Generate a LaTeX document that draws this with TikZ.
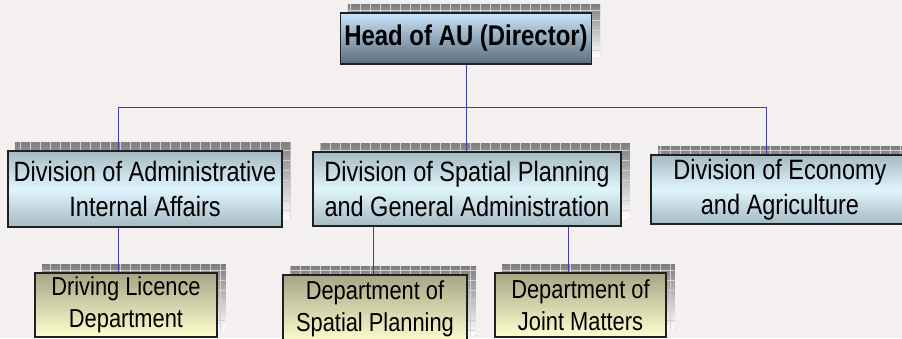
\documentclass[tikz,border=0pt]{standalone}
\usepackage{fontspec}
\setmainfont{Liberation Sans}[FakeStretch=0.84]
\usetikzlibrary{backgrounds}

\definecolor{paper}{RGB}{244,240,240}
\definecolor{wire}{RGB}{64,64,160}
\definecolor{rim}{RGB}{32,32,32}
\definecolor{shade}{RGB}{180,180,180}
\definecolor{shadeline}{RGB}{208,208,208}
\definecolor{headtop}{RGB}{200,228,252}
\definecolor{headbot}{RGB}{92,108,124}
\definecolor{divedge}{RGB}{166,186,196}
\definecolor{divmid}{RGB}{224,244,252}
\definecolor{deptop}{RGB}{166,166,134}
\definecolor{depbot}{RGB}{255,255,208}

\begin{document}
\begin{tikzpicture}[x=1pt,y=-1pt,
    box/.style={draw=rim,line width=1.1pt,inner sep=0pt,align=center},
    headbox/.style={box,top color=headtop,bottom color=headbot,
      font=\fontsize{28.5}{34}\selectfont\bfseries},
    divbox/.style={box,top color=divedge,bottom color=divedge,middle color=divmid,
      font=\fontsize{28}{35}\selectfont},
    depbox/.style={box,top color=deptop,bottom color=depbot,
      font=\fontsize{26}{32}\selectfont},
    link/.style={wire,line width=1pt}]
  \useasboundingbox (0,0) rectangle (902,338);

  \node[headbox,minimum width=251pt,minimum height=51pt] (head) at (466,38.5)
    {Head of AU (Director)};

  \node[divbox,minimum width=274pt,minimum height=76pt] (adm) at (145,189)
    {Division of Administrative\\Internal Affairs};
  \node[divbox,minimum width=308pt,minimum height=74pt] (spa) at (467,189)
    {Division of Spatial Planning\\and General Administration};
  \node[divbox,minimum width=258pt,minimum height=69pt] (eco) at (780,189.5)
    {Division of Economy\\and Agriculture};

  \node[depbox,minimum width=182pt,minimum height=64pt] (drv) at (126,305)
    {Driving Licence\\Department};
  \node[depbox,minimum width=184pt,minimum height=68pt] (dsp) at (375,309)
    {Department of\\Spatial Planning};
  \node[depbox,minimum width=171pt,minimum height=64pt] (jnt) at (580.5,305)
    {Department of\\Joint Matters};

  \coordinate (busL) at (118,107);
  \coordinate (busR) at (766,107);
  \coordinate (dropA) at (373,226);
  \coordinate (dropB) at (568,226);

  \begin{scope}[on background layer]
    \fill[paper] (0,0) rectangle (902,338);
    \foreach \n in {head,adm,spa,eco,drv,dsp,jnt}{
      \begin{scope}
        \clip ([shift={(8pt,8pt)}]\n.south west) rectangle ([shift={(8pt,8pt)}]\n.north east);
        \fill[shade] ([shift={(8pt,8pt)}]\n.south west) rectangle ([shift={(8pt,8pt)}]\n.north east);
        \draw[shadeline,line width=0.6pt,step=10pt] (0,0) grid (910,350);
      \end{scope}
    }
    \draw[link] (busL) -- (busR);
    \draw[link] (head.south) -- (head.south |- spa.north);
    \draw[link] (busL) -- (busL |- adm.north);
    \draw[link] (busR) -- (busR |- eco.north);
    \draw[link] (busL |- adm.south) -- (busL |- drv.north);
    \draw[link] (dropA) -- (dropA |- dsp.north);
    \draw[link] (dropB) -- (dropB |- jnt.north);
  \end{scope}
\end{tikzpicture}
\end{document}
